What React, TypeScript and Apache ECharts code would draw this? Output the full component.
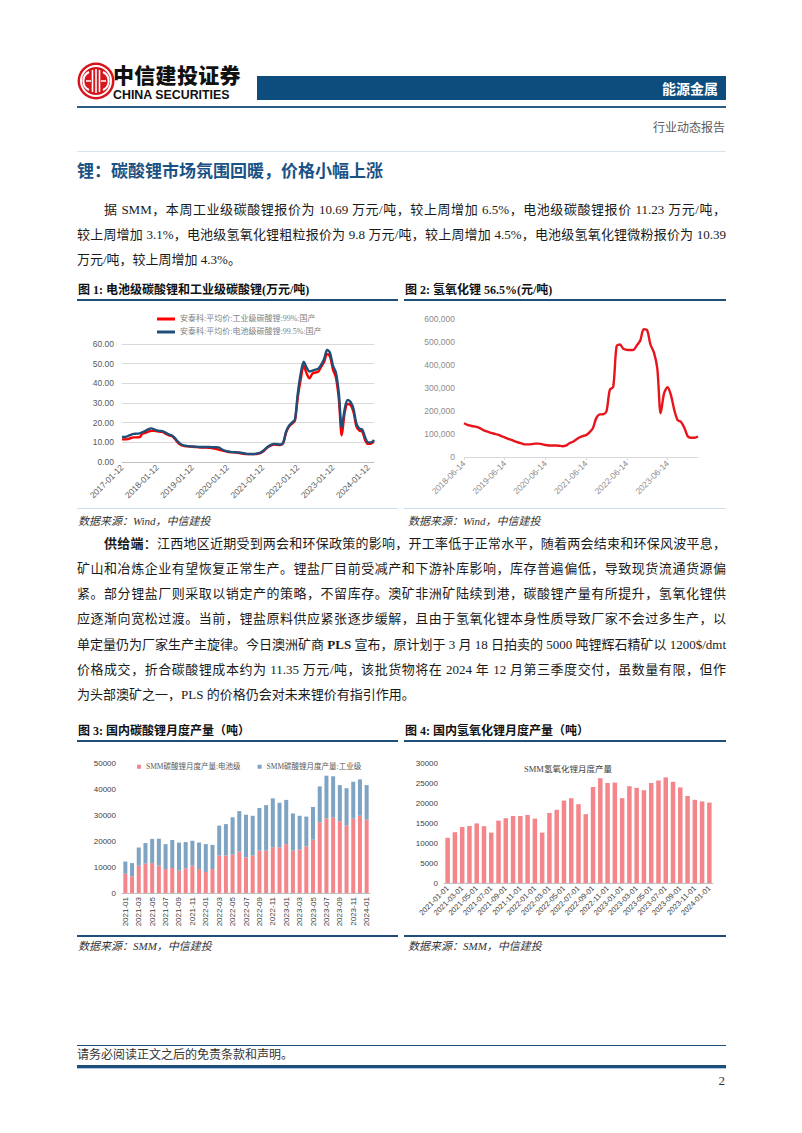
import React, { useEffect, useRef } from "react";
import * as echarts from "echarts";

// ---------- data ----------
const c1Categories: string[] = (() => {
  const out: string[] = [];
  for (let y = 2017; y <= 2024; y++) {
    for (let m = 1; m <= 12; m++) {
      if (y === 2024 && m > 3) break;
      out.push(`${y}-${String(m).padStart(2, "0")}-12`);
    }
  }
  return out;
})();
const c1Industrial = [
  11.5, 11.5, 11.6, 12.2, 12.5, 12.5, 12.6, 14.5, 14.8, 15.4, 15.8, 15.9,
  15.6, 15.4, 15.2, 14.3, 13.6, 13.2, 11.8, 10.0, 8.8, 8.2, 8.0, 7.9,
  7.7, 7.6, 7.5, 7.4, 7.4, 7.3, 7.2, 7.0, 6.7, 6.3, 5.9, 5.5,
  5.2, 5.0, 4.9, 4.8, 4.6, 4.3, 4.1, 4.0, 4.0, 4.0, 4.1, 4.4,
  5.2, 6.5, 7.8, 8.5, 8.9, 8.7, 8.6, 9.5, 15.0, 18.0, 19.5, 21.0,
  33.0, 42.0, 49.0, 45.0, 42.5, 45.0, 45.5, 46.0, 48.5, 51.0, 55.0, 53.5,
  47.0, 43.0, 32.0, 13.5, 25.0, 29.5, 29.0, 25.5, 18.0, 16.0, 15.5, 11.0,
  9.2, 9.3, 10.7,
];
const c1Battery = [
  12.7, 12.7, 13.2, 13.8, 14.3, 14.4, 14.6, 15.2, 15.8, 16.7, 17.1, 16.6,
  16.0, 15.8, 15.6, 14.8, 14.0, 13.5, 12.3, 10.5, 9.2, 8.5, 8.2, 8.0,
  7.9, 7.8, 7.7, 7.6, 7.6, 7.6, 7.6, 7.5, 7.5, 7.4, 6.5, 5.8,
  5.4, 5.1, 5.0, 4.9, 4.8, 4.6, 4.3, 4.1, 4.1, 4.1, 4.3, 4.6,
  5.5, 6.8, 8.0, 8.8, 9.2, 9.0, 8.9, 9.8, 15.5, 18.5, 20.0, 21.5,
  35.0, 45.0, 51.0, 48.0, 46.0, 46.5, 47.0, 47.5, 49.5, 52.5, 57.0, 55.5,
  49.0, 45.5, 35.0, 17.5, 27.0, 31.5, 30.5, 27.0, 19.5, 17.0, 16.5, 12.5,
  10.0, 10.0, 11.2,
];
const c1Names = ["安泰科:平均价:工业级碳酸锂:99%:国产", "安泰科:平均价:电池级碳酸锂:99.5%:国产"];

const c2Categories: string[] = (() => {
  const out: string[] = [];
  for (let y = 2018; y <= 2024; y++) {
    for (let m = 1; m <= 12; m++) {
      if (y === 2018 && m < 6) continue;
      if (y === 2024 && m > 3) break;
      out.push(`${y}-${String(m).padStart(2, "0")}-14`);
    }
  }
  return out;
})();
const c2Hydroxide = [
  147000, 140000, 136000, 133000, 130000, 123000, 115000,
  110000, 105000, 101000, 97000, 91000, 85000, 79000, 74000, 68000, 63000, 59000, 55000,
  55000, 56000, 58000, 58000, 56000, 52000, 50000, 50000, 50000, 49000, 47000, 49000,
  59000, 65000, 75000, 85000, 91000, 95000, 107000, 125000, 169000, 185000, 186000, 198000,
  292000, 305000, 482000, 489000, 470000, 466000, 465000, 466000, 486000, 508000, 556000, 551000,
  488000, 455000, 385000, 190000, 277000, 303000, 270000, 205000, 160000, 152000, 126000, 89000,
  84000, 84000, 89000,
];

const c3Categories = [
  "2021-01", "2021-02", "2021-03", "2021-04", "2021-05", "2021-06", "2021-07", "2021-08", "2021-09", "2021-10", "2021-11", "2021-12",
  "2022-01", "2022-02", "2022-03", "2022-04", "2022-05", "2022-06", "2022-07", "2022-08", "2022-09", "2022-10", "2022-11", "2022-12",
  "2023-01", "2023-02", "2023-03", "2023-04", "2023-05", "2023-06", "2023-07", "2023-08", "2023-09", "2023-10", "2023-11", "2023-12",
  "2024-01",
];
const c3Battery = [
  7400, 6400, 10500, 11300, 11500, 10500, 9200, 9600, 8600, 9500, 10500, 9200,
  8100, 9200, 14400, 14400, 14700, 15900, 13700, 14400, 16300, 16300, 17600, 17600,
  18800, 16300, 16700, 17900, 20500, 27200, 28600, 29000, 27600, 25900, 28600, 29700,
  28200,
];
const c3Industrial = [
  4700, 5100, 7000, 7900, 9300, 10400, 9600, 10800, 10800, 10100, 9600, 10200,
  10700, 9300, 11500, 12100, 14400, 15600, 16400, 15300, 16400, 17500, 18800, 17100,
  17000, 14300, 13000, 11500, 12600, 13800, 16500, 15900, 13900, 14400, 14200, 14000,
  13300,
];
const c3Names = ["SMM碳酸锂月度产量:电池级", "SMM碳酸锂月度产量:工业级"];

const c4Categories = c3Categories.map((c) => `${c}-01`);
const c4Hydroxide = [
  11300, 12700, 14000, 14250, 14900, 14200, 12600, 15600, 16200, 16750, 16750, 17000,
  16100, 12600, 17500, 18300, 20600, 21200, 19700, 17200, 24000, 26200, 25000, 25100,
  21200, 24200, 23800, 23200, 25000, 25600, 26400, 25300, 23900, 21750, 20800, 20400,
  20100,
];
const c4Title = "SMM氢氧化锂月度产量";

// ---------- styling ----------
const SERIF = '"Liberation Serif", "Times New Roman", "Noto Sans CJK SC", serif';
const SANS = '"Liberation Sans", Arial, "Noto Sans CJK SC", sans-serif';
const CJK = '"Noto Sans CJK SC", "Liberation Sans", sans-serif';
const NAVY = "#1f4e79";
const plain = (v: number) => String(v);

function EChart({ option, style }: { option: any; style: React.CSSProperties }) {
  const ref = useRef<HTMLDivElement>(null);
  useEffect(() => {
    const chart = echarts.init(ref.current!, null, { renderer: "svg" });
    chart.setOption(option);
    return () => chart.dispose();
  }, []);
  return <div ref={ref} style={{ position: "absolute", ...style }} />;
}

const opt1 = {
  animation: false,
  textStyle: { fontFamily: SANS },
  legend: {
    orient: "vertical",
    left: 75,
    top: 9,
    itemGap: 5,
    itemWidth: 18,
    itemHeight: 3,
    icon: "rect",
    textStyle: { fontSize: 8, color: "#7f7f7f", fontFamily: SERIF },
    data: c1Names,
  },
  grid: { left: 45, right: 24, top: 43, bottom: 46 },
  xAxis: {
    type: "category",
    data: c1Categories,
    boundaryGap: false,
    axisLine: { lineStyle: { color: "#bfbfbf" } },
    axisTick: { show: false },
    axisLabel: { interval: 11, rotate: 45, fontSize: 8.5, color: "#595959", margin: 4 },
  },
  yAxis: {
    type: "value",
    min: 0,
    max: 60,
    interval: 10,
    axisLine: { show: false },
    axisTick: { show: false },
    axisLabel: { fontSize: 8.5, color: "#595959", formatter: (v: number) => v.toFixed(2), margin: 8 },
    splitLine: { lineStyle: { color: "#d9d9d9" } },
  },
  series: [
    { name: c1Names[0], type: "line", data: c1Industrial, showSymbol: false, smooth: 0.3, lineStyle: { color: "#ff0000", width: 2.4 }, itemStyle: { color: "#ff0000" } },
    { name: c1Names[1], type: "line", data: c1Battery, showSymbol: false, smooth: 0.3, lineStyle: { color: "#1f4e79", width: 2.4 }, itemStyle: { color: "#1f4e79" } },
  ],
};

const opt2 = {
  animation: false,
  textStyle: { fontFamily: SANS },
  grid: { left: 60, right: 28, top: 18, bottom: 51 },
  xAxis: {
    type: "category",
    data: c2Categories,
    boundaryGap: false,
    axisLine: { lineStyle: { color: "#d9d9d9" } },
    axisTick: { show: true, interval: 11, length: 3, lineStyle: { color: "#d9d9d9" } },
    axisLabel: { interval: 11, rotate: 45, fontSize: 8.5, color: "#8c8c8c", margin: 5 },
  },
  yAxis: {
    type: "value",
    min: 0,
    max: 600000,
    interval: 100000,
    axisLine: { show: false },
    axisTick: { show: false },
    splitLine: { show: false },
    axisLabel: { fontSize: 8.5, color: "#8c8c8c", margin: 9, formatter: (v: number) => v.toLocaleString("en-US") },
  },
  series: [
    { name: "氢氧化锂", type: "line", data: c2Hydroxide, showSymbol: false, smooth: 0.3, lineStyle: { color: "#e8141b", width: 2.4 } },
  ],
};

const opt3 = {
  animation: false,
  textStyle: { fontFamily: SANS },
  legend: {
    left: 55,
    top: 15,
    itemGap: 17,
    itemWidth: 4,
    itemHeight: 4,
    icon: "rect",
    textStyle: { fontSize: 7.5, color: "#595959", fontFamily: SERIF },
    data: c3Names,
  },
  grid: { left: 45, right: 28, top: 20, bottom: 42 },
  xAxis: {
    type: "category",
    data: c3Categories,
    axisLine: { lineStyle: { color: "#bfbfbf" } },
    axisTick: { show: false },
    axisLabel: { interval: 1, rotate: 90, fontSize: 8, color: "#404040", margin: 4 },
  },
  yAxis: {
    type: "value",
    min: 0,
    max: 50000,
    interval: 10000,
    axisLine: { show: false },
    axisTick: { show: false },
    splitLine: { show: false },
    axisLabel: { fontSize: 8, color: "#404040", margin: 6, formatter: plain },
  },
  series: [
    { name: c3Names[0], type: "bar", stack: "t", data: c3Battery, barWidth: 4, itemStyle: { color: "#f4868b" } },
    { name: c3Names[1], type: "bar", stack: "t", data: c3Industrial, barWidth: 4, itemStyle: { color: "#7fa3c2" } },
  ],
};

const opt4 = {
  animation: false,
  textStyle: { fontFamily: SANS },
  graphic: [
    { type: "text", x: 164, y: 26, style: { text: c4Title, fontSize: 8.5, fill: "#404040", fontFamily: SERIF, textAlign: "center", textVerticalAlign: "middle" } },
  ],
  grid: { left: 40, right: 13, top: 20, bottom: 52 },
  xAxis: {
    type: "category",
    data: c4Categories,
    axisLine: { lineStyle: { color: "#bfbfbf" } },
    axisTick: { show: false },
    axisLabel: { interval: 1, rotate: 45, fontSize: 7.5, color: "#404040", margin: 4 },
  },
  yAxis: {
    type: "value",
    min: 0,
    max: 30000,
    interval: 5000,
    axisLine: { show: false },
    axisTick: { show: false },
    splitLine: { show: false },
    axisLabel: { fontSize: 8, color: "#404040", margin: 6, formatter: plain },
  },
  series: [
    { name: c4Title, type: "bar", data: c4Hydroxide, barWidth: 4.5, itemStyle: { color: "#f4868b" } },
  ],
};

// ---------- page helpers ----------
function Abs({ style, children }: { style: React.CSSProperties; children?: React.ReactNode }) {
  return <div style={{ position: "absolute", ...style }}>{children}</div>;
}

function TextLine({ top, children, last, indent }: { top: number; children: React.ReactNode; last?: boolean; indent?: boolean }) {
  return (
    <div
      style={{
        position: "absolute",
        left: indent ? 104 : 77,
        top,
        width: indent ? 622 : 649,
        height: 25,
        lineHeight: "25px",
        fontSize: 13,
        fontFamily: SERIF,
        color: "#1a1a1a",
        textAlign: "justify",
        textAlignLast: last ? "left" : "justify",
        whiteSpace: "nowrap",
      }}
    >
      {children}
    </div>
  );
}

function FigTitle({ left, width, top, text }: { left: number; width: number; top: number; text: string }) {
  return (
    <>
      <Abs style={{ left: left + 1, top, fontSize: 12, lineHeight: "14px", fontWeight: 700, fontFamily: SERIF, color: "#111", whiteSpace: "nowrap" }}>{text}</Abs>
      <Abs style={{ left, top: top + 16, width, height: 1.5, background: NAVY }} />
    </>
  );
}

function Source({ left, top, text }: { left: number; top: number; text: string }) {
  return (
    <Abs style={{ left: left + 1, top, fontSize: 11, lineHeight: "13px", fontStyle: "italic", fontFamily: SERIF, color: "#333", whiteSpace: "nowrap" }}>{text}</Abs>
  );
}

function Logo() {
  return (
    <svg width={38} height={38} viewBox="0 0 38 38" style={{ position: "absolute", left: 77, top: 62 }}>
      <circle cx={19} cy={19} r={18.5} fill="#d6151d" />
      <circle cx={19} cy={19} r={15} fill="none" stroke="#fff" strokeWidth={2} />
      <path d="M12 10 A10 10 0 0 0 12 28" fill="none" stroke="#fff" strokeWidth={2} />
      <path d="M26 10 A10 10 0 0 1 26 28" fill="none" stroke="#fff" strokeWidth={2} />
      <path d="M15.5 8 V30 M19 7 V31 M22.5 8 V30" stroke="#fff" strokeWidth={1.6} />
      <path d="M9 19 H14 M24 19 H29" stroke="#fff" strokeWidth={1.6} />
    </svg>
  );
}

export default function App() {
  return (
    <div style={{ position: "absolute", left: 0, top: 0, width: 802, height: 1133, background: "#fff", overflow: "hidden" }}>
      {/* header */}
      <Logo />
      <Abs style={{ left: 113, top: 62.5, fontSize: 21, lineHeight: "22px", fontWeight: 900, fontFamily: CJK, color: "#111", whiteSpace: "nowrap", letterSpacing: 0.3 }}>中信建投证券</Abs>
      <Abs style={{ left: 113, top: 89.5, fontSize: 12.4, lineHeight: "11px", fontWeight: 700, fontFamily: '"Liberation Sans", Arial, sans-serif', color: "#111", whiteSpace: "nowrap" }}>CHINA SECURITIES</Abs>
      <Abs style={{ left: 257, top: 76, width: 469, height: 24, background: "#0c4d7d" }}>
        <div style={{ position: "absolute", right: 8, top: 0, lineHeight: "24px", fontSize: 14, fontWeight: 700, color: "#fff", fontFamily: CJK }}>能源金属</div>
      </Abs>
      <Abs style={{ left: 77, top: 106, width: 649, height: 1.5, background: "#2c5d87" }} />
      <Abs style={{ left: 600, width: 125, top: 120, fontSize: 12, lineHeight: "16px", textAlign: "right", color: "#595959", fontFamily: SERIF }}>行业动态报告</Abs>

      {/* heading */}
      <Abs style={{ left: 77, top: 151, width: 649, height: 1, background: "#d6e5f2" }} />
      <Abs style={{ left: 77, top: 159, fontSize: 17, lineHeight: "22px", fontWeight: 700, fontFamily: CJK, color: "#1b5285", whiteSpace: "nowrap" }}>锂：碳酸锂市场氛围回暖，价格小幅上涨</Abs>

      {/* paragraph 1 */}
      <TextLine top={196.5} indent>据 SMM，本周工业级碳酸锂报价为 10.69 万元/吨，较上周增加 6.5%，电池级碳酸锂报价 11.23 万元/吨，</TextLine>
      <TextLine top={221.8}>较上周增加 3.1%，电池级氢氧化锂粗粒报价为 9.8 万元/吨，较上周增加 4.5%，电池级氢氧化锂微粉报价为 10.39</TextLine>
      <TextLine top={247.1} last>万元/吨，较上周增加 4.3%。</TextLine>

      {/* figure 1 & 2 */}
      <FigTitle left={77} width={321} top={283} text="图 1: 电池级碳酸锂和工业级碳酸锂(万元/吨)" />
      <FigTitle left={404} width={322} top={283} text="图 2: 氢氧化锂 56.5%(元/吨)" />
      <EChart option={opt1} style={{ left: 77, top: 301, width: 321, height: 207 }} />
      <EChart option={opt2} style={{ left: 404, top: 301, width: 322, height: 207 }} />
      <Abs style={{ left: 77, top: 508, width: 321, height: 1, background: "#cfdeec" }} />
      <Abs style={{ left: 404, top: 508, width: 322, height: 1, background: "#cfdeec" }} />
      <Source left={77} top={515} text="数据来源：Wind，中信建投" />
      <Source left={407} top={515} text="数据来源：Wind，中信建投" />

      {/* paragraph 2 */}
      <TextLine top={530.5} indent><b>供给端</b>：江西地区近期受到两会和环保政策的影响，开工率低于正常水平，随着两会结束和环保风波平息，</TextLine>
      <TextLine top={555.8}>矿山和冶炼企业有望恢复正常生产。锂盐厂目前受减产和下游补库影响，库存普遍偏低，导致现货流通货源偏</TextLine>
      <TextLine top={581.1}>紧。部分锂盐厂则采取以销定产的策略，不留库存。澳矿非洲矿陆续到港，碳酸锂产量有所提升，氢氧化锂供</TextLine>
      <TextLine top={606.4}>应逐渐向宽松过渡。当前，锂盐原料供应紧张逐步缓解，且由于氢氧化锂本身性质导致厂家不会过多生产，以</TextLine>
      <TextLine top={631.7}>单定量仍为厂家生产主旋律。今日澳洲矿商 <b>PLS</b> 宣布，原计划于 3 月 18 日拍卖的 5000 吨锂辉石精矿以 1200$/dmt</TextLine>
      <TextLine top={657}>价格成交，折合碳酸锂成本约为 11.35 万元/吨，该批货物将在 2024 年 12 月第三季度交付，虽数量有限，但作</TextLine>
      <TextLine top={682.3} last>为头部澳矿之一，PLS 的价格仍会对未来锂价有指引作用。</TextLine>

      {/* figure 3 & 4 */}
      <FigTitle left={77} width={321} top={724} text="图 3: 国内碳酸锂月度产量（吨）" />
      <FigTitle left={404} width={322} top={724} text="图 4: 国内氢氧化锂月度产量（吨）" />
      <EChart option={opt3} style={{ left: 77, top: 743, width: 321, height: 192 }} />
      <EChart option={opt4} style={{ left: 404, top: 743, width: 322, height: 192 }} />
      <Abs style={{ left: 77, top: 935, width: 321, height: 1.5, background: NAVY }} />
      <Abs style={{ left: 404, top: 935, width: 322, height: 1.5, background: NAVY }} />
      <Source left={77} top={940} text="数据来源：SMM，中信建投" />
      <Source left={407} top={940} text="数据来源：SMM，中信建投" />

      {/* footer */}
      <Abs style={{ left: 77, top: 1045, width: 649, height: 1, background: NAVY }} />
      <Abs style={{ left: 77, top: 1048, fontSize: 12, lineHeight: "15px", fontFamily: SERIF, color: "#333" }}>请务必阅读正文之后的免责条款和声明。</Abs>
      <Abs style={{ left: 77, top: 1065, width: 649, height: 3, background: NAVY }} />
      <Abs style={{ left: 77, top: 1068, width: 649, height: 1, background: "#a9cbe8" }} />
      <Abs style={{ left: 700, width: 25, top: 1073, fontSize: 13, lineHeight: "15px", textAlign: "right", fontFamily: SERIF, color: "#333" }}>2</Abs>
    </div>
  );
}
